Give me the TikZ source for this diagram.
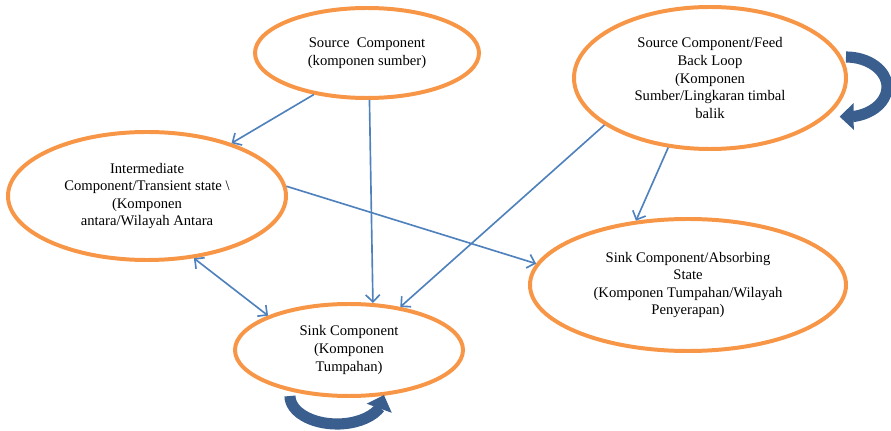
\documentclass[tikz,border=0pt]{standalone}
\usepackage{fontspec}
\setmainfont{Liberation Serif}
\usepackage{xcolor}
\usetikzlibrary{shapes,arrows.meta,bending,positioning,calc}

\definecolor{ringorange}{HTML}{F79646}
\definecolor{flowblue}{HTML}{4F81BD}
\definecolor{loopblue}{HTML}{3A5E8E}

\tikzset{
  comp/.style={ellipse,draw=ringorange,line width=3.4pt,inner sep=0pt,align=center,
    font=\fontsize{12.5}{15}\selectfont},
  barb/.tip={Straight Barb[length=6pt,width=12pt]},
  flow/.style={draw=flowblue,line width=1.4pt,-barb},
  flowboth/.style={draw=flowblue,line width=1.4pt,barb-barb},
  selfloop/.style={draw=loopblue,line width=9.5pt,-{Triangle[length=12pt,width=22pt,flex]}}
}

\begin{document}
\begin{tikzpicture}[x=0.03cm,y=-0.03cm]
    \useasboundingbox (0,0) rectangle (891,431);

    % Components
    \node[comp,minimum width=6.72cm,minimum height=2.7cm] (src) at (367,53)
        {Source\ \ Component\\(komponen sumber)};
    \node[comp,minimum width=8.16cm,minimum height=4.26cm] (fb) at (710,78)
        {Source Component/Feed\\Back Loop\\(Komponen\\Sumber/Lingkaran timbal\\balik};
    \node[comp,minimum width=8.34cm,minimum height=3.84cm] (mid) at (147,196)
        {Intermediate\\Component/Transient state \textbackslash\\(Komponen\\antara/Wilayah Antara};
    \node[comp,minimum width=9.48cm,minimum height=3.96cm] (sinkb) at (688,285)
        {Sink Component/Absorbing\\State\\(Komponen Tumpahan/Wilayah\\Penyerapan)};
    \node[comp,minimum width=6.84cm,minimum height=2.76cm] (sink) at (349,350)
        {Sink Component\\(Komponen\\Tumpahan)};

    % Flows
    \draw[flow] (src.218) -- (mid.32);
    \draw[flow] (src.273) -- (sink.63);
    \draw[flow] (mid.4) -- (sinkb.172);
    \draw[flow] (fb.204) -- (sink.40);
    \draw[flow] (fb.239) -- (sinkb.129);
    \draw[flowboth] (mid.307) -- (sink.157);

    % Loops
    \draw[selfloop] ([shift={(136,-21)}]fb.center) arc[start angle=-90,end angle=99,x radius=41,y radius=30];
    \draw[selfloop] ([shift={(-59,46)}]sink.center) arc[start angle=180,end angle=-2,x radius=47,y radius=28];
\end{tikzpicture}
\end{document}
